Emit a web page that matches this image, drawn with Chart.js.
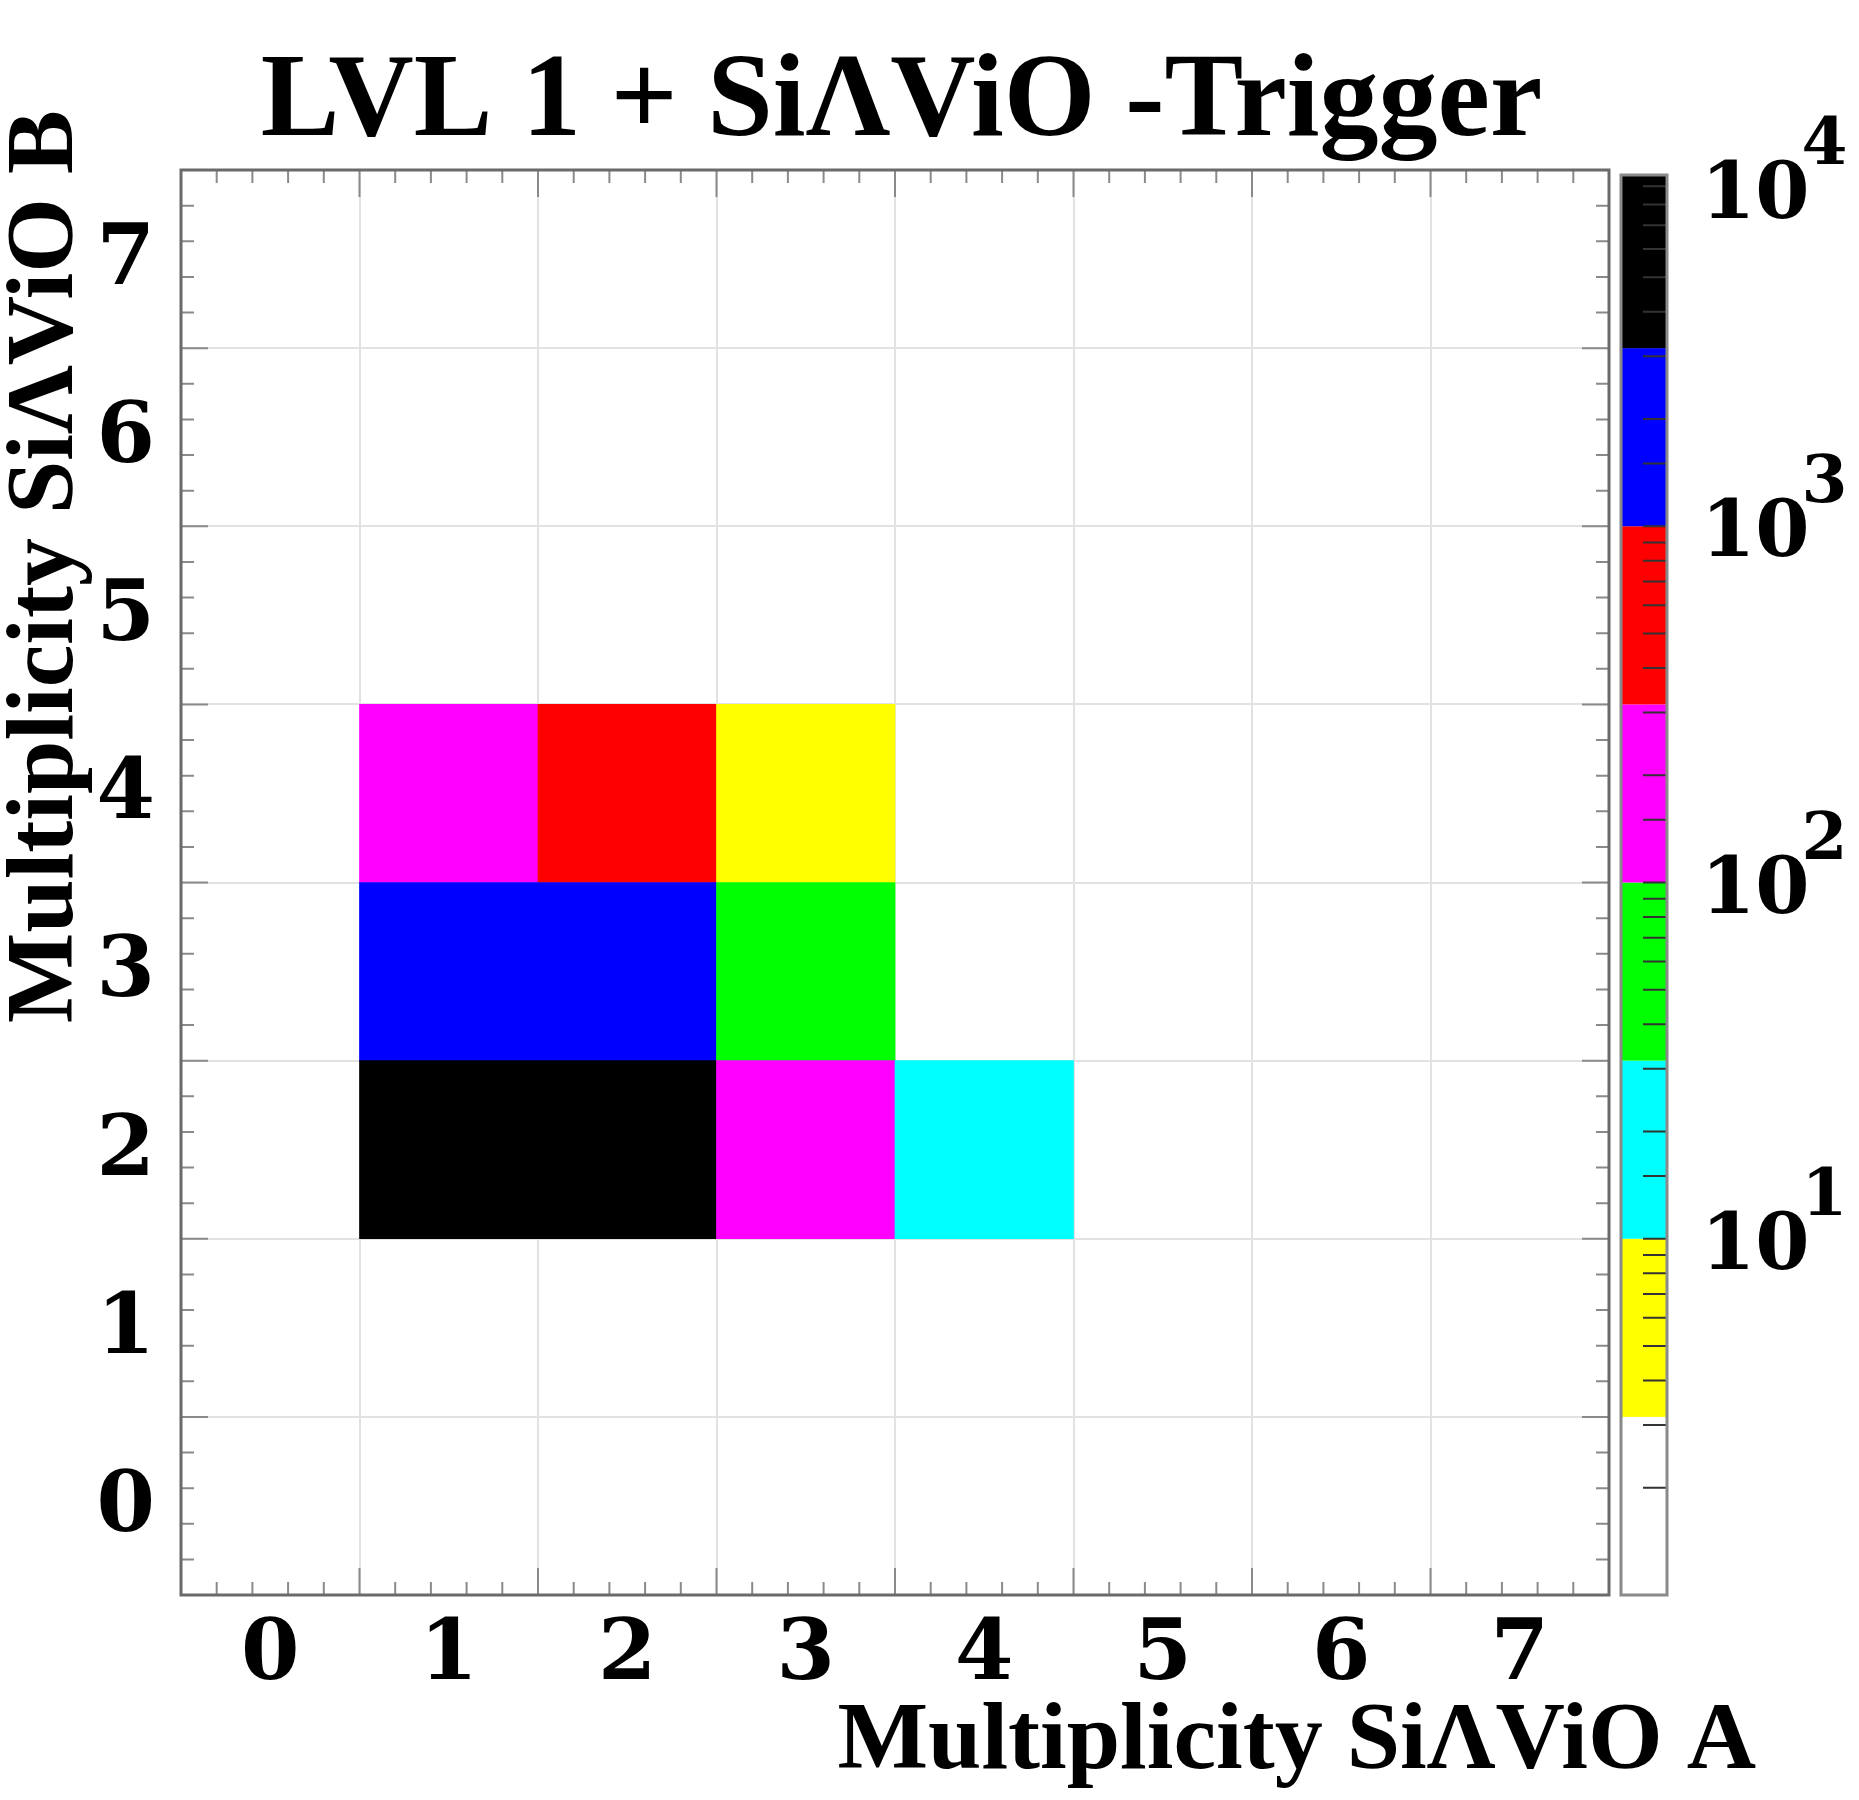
<!DOCTYPE html>
<html><head><meta charset="utf-8">
<style>html,body{margin:0;padding:0;background:#fff;}canvas{display:block;}</style>
<script src="https://cdn.jsdelivr.net/npm/chart.js@4.4.1/dist/chart.umd.min.js"></script>
</head><body>
<canvas id="c" width="1859" height="1800" style="width:1859px;height:1800px"></canvas>
<script>
// ---- data ----
const xLabels = ['0','1','2','3','4','5','6','7'];
const yLabels = ['0','1','2','3','4','5','6','7'];
const cellX = [1, 2, 3, 1, 2, 3, 1, 2, 3, 4];
const cellY = [4, 4, 4, 3, 3, 3, 2, 2, 2, 2];
const cellCounts = [150, 500, 5, 1500, 1800, 50, 6000, 5000, 200, 15];
const zMin = 1, zMax = 10000;
const paletteColors = ['#ffffff','#ffff00','#00ffff','#00ff00','#ff00ff','#ff0000','#0000ff','#000000'];
const colorbarExponents = [1, 2, 3, 4];
const titleText = 'LVL 1 + SiΛViO -Trigger';
const xTitle = 'Multiplicity SiΛViO A';
const yTitle = 'Multiplicity SiΛViO B';

const TEXT_FONT = 'Liberation Serif';
const DIGIT_FONT = 'DejaVu Serif';

function colorFor(v) {
  const n = paletteColors.length;
  const f = Math.log10(v / zMin) / Math.log10(zMax / zMin);
  return paletteColors[Math.max(0, Math.min(n - 1, Math.floor(f * n)))];
}

const decor = {
  id: 'decor',
  afterDraw(chart) {
    const {ctx, chartArea: a, scales} = chart;
    const xs = scales.x, ys = scales.y, cb = scales.cbar;
    ctx.save();
    // inward ticks on all four sides
    ctx.strokeStyle = '#8a8a8a';
    ctx.lineWidth = 2;
    ctx.beginPath();
    for (let i = 0; i <= 40; i++) {
      const v = -0.5 + i * 0.2;
      const len = (i % 5 === 0) ? 27 : 13;
      const px = xs.getPixelForValue(v);
      ctx.moveTo(px, a.bottom); ctx.lineTo(px, a.bottom - len);
      ctx.moveTo(px, a.top); ctx.lineTo(px, a.top + len);
      const py = ys.getPixelForValue(v);
      ctx.moveTo(a.left, py); ctx.lineTo(a.left + len, py);
      ctx.moveTo(a.right, py); ctx.lineTo(a.right - len, py);
    }
    ctx.stroke();
    // frame
    ctx.strokeStyle = '#6a6a6a';
    ctx.lineWidth = 3;
    ctx.strokeRect(a.left, a.top, a.right - a.left, a.bottom - a.top);

    // colorbar
    const bx0 = a.right + 12, bx1 = a.right + 58;
    const n = paletteColors.length;
    const lmin = Math.log10(zMin), lmax = Math.log10(zMax);
    const top = cb.top + 5;
    for (let k = 0; k < n; k++) {
      const v0 = Math.pow(10, lmin + (lmax - lmin) * k / n);
      const v1 = Math.pow(10, lmin + (lmax - lmin) * (k + 1) / n);
      const p0 = cb.getPixelForValue(v0), p1 = Math.max(top, cb.getPixelForValue(v1));
      ctx.fillStyle = paletteColors[k];
      ctx.fillRect(bx0, p1, bx1 - bx0, p0 - p1);
    }
    // colorbar minor ticks (inside, right edge)
    ctx.strokeStyle = '#333';
    ctx.lineWidth = 2;
    ctx.beginPath();
    cb.ticks.forEach(t => {
      const p = cb.getPixelForValue(t.value);
      if (p > top + 2 && p < cb.bottom - 2) {
        ctx.moveTo(bx1, p); ctx.lineTo(bx1 - 24, p);
      }
    });
    ctx.stroke();
    ctx.strokeStyle = '#8a8a8a';
    ctx.lineWidth = 3;
    ctx.strokeRect(bx0, top, bx1 - bx0, cb.bottom - top);

    // colorbar labels 10^n
    ctx.fillStyle = '#000';
    ctx.textAlign = 'left';
    ctx.textBaseline = 'alphabetic';
    colorbarExponents.forEach(e => {
      const p = cb.getPixelForValue(Math.pow(10, e));
      const base = Math.max(p + 30, cb.top + 48);
      const lx = bx1 + 34;
      ctx.font = 'bold 78px "' + DIGIT_FONT + '"';
      ctx.fillText('10', lx, base);
      const w = ctx.measureText('10').width;
      ctx.font = 'bold 66px "' + DIGIT_FONT + '"';
      ctx.fillText(String(e), lx + w - 8, base - 54);
    });

    // axis titles
    ctx.font = 'bold 96px "' + TEXT_FONT + '"';
    ctx.textAlign = 'right';
    ctx.textBaseline = 'alphabetic';
    ctx.fillText(xTitle, 1756, 1768);
    ctx.save();
    ctx.translate(72, 110);
    ctx.rotate(-Math.PI / 2);
    ctx.textAlign = 'right';
    ctx.fillText(yTitle, 0, 0);
    ctx.restore();
    ctx.restore();
  }
};

const tickFont = {family: DIGIT_FONT, weight: 'bold', size: 84};

new Chart(document.getElementById('c'), {
  type: 'bar',
  data: {
    labels: xLabels,
    datasets: [{
      data: cellX.map((x, i) => ({x: xLabels[x], y: [cellY[i] - 0.5, cellY[i] + 0.5]})),
      backgroundColor: cellCounts.map(colorFor),
      borderWidth: 0,
      barPercentage: 1,
      categoryPercentage: 1
    }]
  },
  options: {
    responsive: false,
    animation: false,
    devicePixelRatio: 1,
    layout: {padding: {left: 0, right: 56, top: 0, bottom: 0}},
    plugins: {
      legend: {display: false},
      tooltip: {enabled: false},
      title: {
        display: true,
        text: titleText,
        color: '#000',
        font: {family: TEXT_FONT, weight: 'bold', size: 118, lineHeight: 1.0},
        padding: {top: 46, bottom: 6}
      }
    },
    scales: {
      x: {
        type: 'category',
        offset: true,
        grid: {offset: true, color: '#e2e2e2', lineWidth: 2, drawTicks: false},
        border: {display: false},
        ticks: {font: tickFont, color: '#000', padding: 12, autoSkip: false, maxRotation: 0},
        afterFit(s) { s.height = 205; }
      },
      y: {
        type: 'linear',
        min: -0.5, max: 7.5,
        grid: {color: '#e2e2e2', lineWidth: 2, drawTicks: false},
        border: {display: false},
        afterBuildTicks(s) {
          s.ticks = yLabels.concat(['']).map((_, i) => ({value: i - 0.5}));
        },
        ticks: {
          font: tickFont, color: '#000', padding: 26, autoSkip: false,
          labelOffset: -86,
          callback: (v, i) => (i < yLabels.length ? yLabels[i] : '')
        },
        afterFit(s) { s.width = 181; }
      },
      cbar: {
        type: 'logarithmic',
        position: 'right',
        min: zMin, max: zMax,
        grid: {display: false},
        border: {display: false},
        ticks: {display: false},
        afterFit(s) { s.width = 194; }
      }
    }
  },
  plugins: [decor]
});
</script>
</body></html>
